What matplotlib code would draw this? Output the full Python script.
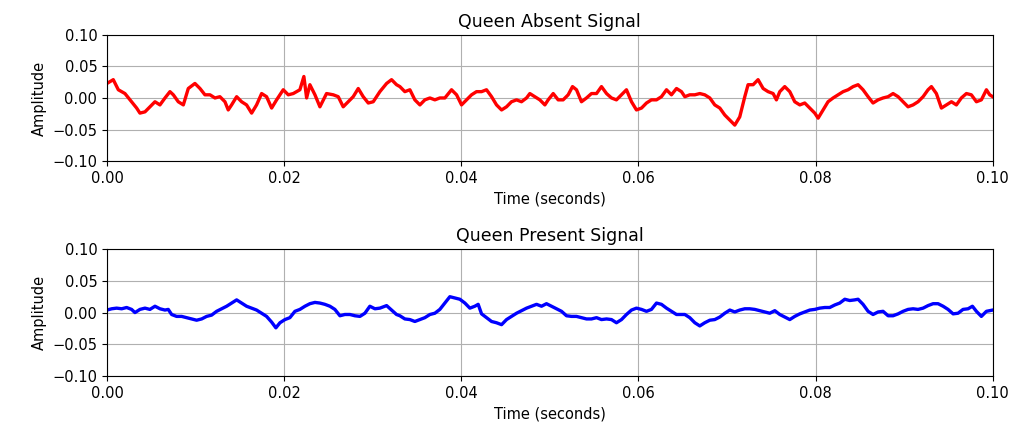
import matplotlib
matplotlib.use("Agg")
import matplotlib.pyplot as plt
import numpy as np

# Queen Absent signal (time in ms, amplitude)
absent_t_ms = [0.00, 0.71, 1.28, 2.03, 2.78, 3.35, 3.72, 4.29, 4.85, 5.42, 5.98, 6.55, 7.11, 7.49,
               8.05, 8.62, 9.18, 9.93, 10.50, 11.06, 11.63, 12.19, 12.75, 13.32, 13.69, 14.07, 14.64,
               15.20, 15.76, 16.33, 16.89, 17.46, 18.02, 18.59, 19.15, 19.90, 20.47, 21.03, 21.78,
               22.23, 22.54, 22.91, 23.48, 24.04, 24.79, 25.55, 26.11, 26.67, 27.24, 27.80, 28.37,
               28.93, 29.50, 30.06, 30.81, 31.57, 32.13, 32.69,
               33.07, 33.63, 34.20, 34.76, 35.33, 35.89, 36.46, 37.02, 37.58, 38.15, 38.90, 39.47,
               40.03, 40.59, 41.16, 41.72, 42.29, 42.85, 43.42, 43.98, 44.55, 45.11, 45.67, 46.24,
               46.80, 47.37, 47.74, 48.31, 48.87, 49.44, 49.81, 50.38, 50.94, 51.50, 52.07, 52.56,
               53.01, 53.57, 54.14, 54.70, 55.27, 55.83, 56.40, 56.96, 57.52, 58.09, 58.65, 59.22,
               59.78, 60.35, 60.91, 61.47, 62.04, 62.60, 63.17, 63.73, 64.30, 64.86,
               65.24, 65.80, 66.37, 66.93, 67.49, 68.06, 68.62, 69.19, 69.75, 70.32, 70.88, 71.44,
               72.01, 72.38, 72.95, 73.51, 74.08, 74.64, 75.21, 75.58, 75.96, 76.52, 77.09, 77.65,
               78.22, 78.78, 79.35, 79.91, 80.29, 80.85, 81.41, 81.98, 82.54, 83.11, 83.67, 84.24,
               84.80, 85.36, 85.93, 86.49, 87.06, 87.62, 88.19, 88.75, 89.32, 89.88, 90.44, 91.01,
               91.57, 92.14, 92.70, 93.08, 93.64, 94.21, 94.77, 95.34, 95.90, 96.46, 97.03, 97.59,
               98.16, 98.72, 99.29, 99.66, 100.00]
absent_amp = [0.023, 0.029, 0.013, 0.007, -0.006, -0.016, -0.024, -0.022, -0.014, -0.006, -0.011,
              0.000, 0.010, 0.005, -0.006, -0.011, 0.015, 0.023, 0.015, 0.005, 0.005, 0.000, 0.002,
              -0.006, -0.019, -0.011, 0.002, -0.006, -0.011, -0.024, -0.011, 0.007, 0.002, -0.016,
              -0.003, 0.013, 0.005, 0.007, 0.013, 0.034, 0.000, 0.021, 0.005, -0.014, 0.007, 0.005,
              0.002, -0.014, -0.006, 0.002, 0.015, 0.002, -0.008, -0.006, 0.010, 0.023, 0.029, 0.021,
              0.018, 0.010, 0.013, -0.003, -0.011, -0.003, 0.000, -0.003, 0.000, 0.000, 0.013, 0.005,
              -0.011, -0.003, 0.005, 0.010, 0.010, 0.013, 0.002, -0.011, -0.019, -0.014, -0.006,
              -0.003, -0.006, 0.000, 0.007, 0.002, -0.003, -0.011, -0.003, 0.007, -0.003, -0.003,
              0.005, 0.018, 0.013, -0.006, 0.000, 0.007, 0.007, 0.018, 0.007, 0.000, -0.003, 0.005,
              0.013, -0.006, -0.019, -0.016, -0.008, -0.003, -0.003, 0.002, 0.013, 0.005, 0.015, 0.010,
              0.002, 0.005, 0.005, 0.007, 0.005, 0.000, -0.011, -0.016, -0.027, -0.035, -0.043, -0.030,
              0.002, 0.021, 0.021, 0.029, 0.015, 0.010, 0.007, -0.003, 0.010, 0.018, 0.010, -0.006,
              -0.011, -0.008, -0.016, -0.024, -0.032, -0.019, -0.006, 0.000, 0.005, 0.010, 0.013,
              0.018, 0.021, 0.013, 0.002, -0.008, -0.003, 0.000, 0.002, 0.007, 0.002, -0.006, -0.014,
              -0.011, -0.006, 0.002, 0.013, 0.018, 0.007, -0.016, -0.011, -0.006, -0.011, 0.000,
              0.007, 0.005, -0.006, -0.003, 0.013, 0.005, 0.002]

# Queen Present signal (time in ms, amplitude)
present_t_ms = [0.00, 0.53, 1.09, 1.66, 2.22, 2.78, 3.16, 3.72, 4.29, 4.85, 5.42, 5.98, 6.55, 6.92,
                7.30, 7.86, 8.43, 8.99, 9.56, 10.12, 10.69, 11.25, 11.81, 12.38, 12.94, 13.51, 14.07,
                14.64, 15.20, 15.76, 16.33, 16.89, 17.46, 18.02, 18.59, 19.07, 19.53, 20.09, 20.65,
                21.22, 21.78, 22.35, 22.91, 23.48, 24.04, 24.60, 25.17, 25.73, 26.30, 26.86, 27.43,
                27.99, 28.56, 29.12, 29.68, 30.25, 30.81, 31.57, 32.13, 32.69,
                33.07, 33.63, 34.20, 34.76, 35.33, 35.89, 36.46, 37.02, 37.58, 38.15, 38.71, 39.28,
                39.84, 40.41, 40.97, 41.53, 41.91, 42.29, 42.85, 43.42, 43.98, 44.55, 45.11, 45.67,
                46.24, 46.80, 47.37, 47.93, 48.50, 49.06, 49.62, 50.19, 50.75, 51.32, 51.88, 52.45,
                53.01, 53.57, 54.14, 54.70, 55.27, 55.83, 56.40, 56.96, 57.52, 58.09, 58.65, 59.22,
                59.78, 60.35, 60.91, 61.47, 62.04, 62.60, 63.17, 63.73, 64.30, 64.86,
                65.24, 65.80, 66.37, 66.93, 67.49, 68.06, 68.62, 69.19, 69.75, 70.32, 70.88, 71.44,
                72.01, 72.57, 73.14, 73.70, 74.27, 74.83, 75.40, 75.96, 76.52, 77.09, 77.65, 78.22,
                78.78, 79.35, 79.91, 80.47, 81.04, 81.60, 82.17, 82.73, 83.30, 83.86, 84.42, 84.80,
                85.36, 85.93, 86.49, 87.06, 87.62, 88.19, 88.75, 89.32, 89.88, 90.44, 91.01, 91.57,
                92.14, 92.70, 93.27, 93.83, 94.40, 94.96, 95.53, 96.09, 96.65, 97.22, 97.71, 98.16,
                98.72, 99.29, 100.00]
present_amp = [0.004, 0.006, 0.007, 0.006, 0.008, 0.005, 0.000, 0.005, 0.007, 0.005, 0.010, 0.006,
               0.004, 0.005, -0.003, -0.006, -0.006, -0.008, -0.010, -0.012, -0.010, -0.006, -0.004,
               0.002, 0.006, 0.010, 0.015, 0.020, 0.015, 0.010, 0.007, 0.004, -0.001, -0.006, -0.015,
               -0.024, -0.016, -0.011, -0.008, 0.002, 0.005, 0.010, 0.014, 0.016, 0.015, 0.013, 0.010,
               0.005, -0.005, -0.003, -0.003, -0.005, -0.006, -0.001, 0.010, 0.006, 0.007, 0.011,
               0.004, -0.003,
               -0.005, -0.010, -0.011, -0.014, -0.011, -0.008, -0.003, -0.001, 0.005, 0.015, 0.025,
               0.023, 0.021, 0.015, 0.007, 0.010, 0.013, -0.002, -0.008, -0.014, -0.016, -0.019,
               -0.011, -0.006, -0.001, 0.003, 0.007, 0.010, 0.013, 0.010, 0.014, 0.010, 0.006, 0.002,
               -0.005, -0.006, -0.006, -0.008, -0.010, -0.010, -0.008, -0.011, -0.010, -0.011, -0.016,
               -0.011, -0.003, 0.004, 0.007, 0.005, 0.002, 0.005, 0.015, 0.013, 0.007, 0.002, -0.003,
               -0.003,
               -0.003, -0.008, -0.016, -0.021, -0.016, -0.012, -0.011, -0.007, -0.001, 0.004, 0.001,
               0.004, 0.006, 0.006, 0.005, 0.003, 0.001, -0.001, 0.003, -0.003, -0.007, -0.011,
               -0.006, -0.002, 0.001, 0.004, 0.005, 0.007, 0.008, 0.008, 0.012, 0.015, 0.021, 0.019,
               0.020, 0.021, 0.013, 0.002, -0.003, 0.001, 0.002, -0.005, -0.005, -0.002, 0.002, 0.005,
               0.006, 0.005, 0.007, 0.011, 0.014, 0.014, 0.010, 0.005, -0.002, -0.001, 0.005, 0.006,
               0.010, 0.002, -0.006, 0.002, 0.004]

titles = ["Queen Absent Signal", "Queen Present Signal"]
x_ticks = [0.00, 0.02, 0.04, 0.06, 0.08, 0.10]
y_ticks = [-0.10, -0.05, 0.00, 0.05, 0.10]

fig = plt.figure(figsize=(10.14, 4.25), dpi=100)
ax1 = fig.add_axes([0.1055, 0.621, 0.8735, 0.297])
ax2 = fig.add_axes([0.1055, 0.115, 0.8735, 0.299])

series = [(ax1, absent_t_ms, absent_amp, "red", titles[0]),
          (ax2, present_t_ms, present_amp, "blue", titles[1])]

for ax, t_ms, amp, color, title in series:
    t = np.array(t_ms) / 1000.0
    ax.plot(t, amp, color=color, linewidth=2.4)
    ax.set_xlim(0, 0.1)
    ax.set_ylim(-0.1, 0.1)
    ax.set_xticks(x_ticks)
    ax.set_yticks(y_ticks)
    ax.set_xticklabels([f"{v:.2f}" for v in x_ticks])
    ax.set_yticklabels([f"{v:.2f}".replace("-", "\u2212") for v in y_ticks])
    ax.tick_params(labelsize=10.5)
    ax.grid(True, color="#b0b0b0", linewidth=0.8)
    ax.set_title(title, fontsize=12.5)
    ax.set_xlabel("Time (seconds)", fontsize=10.5)
    ax.set_ylabel("Amplitude", fontsize=10.5)

fig.savefig("out.png", dpi=100)
